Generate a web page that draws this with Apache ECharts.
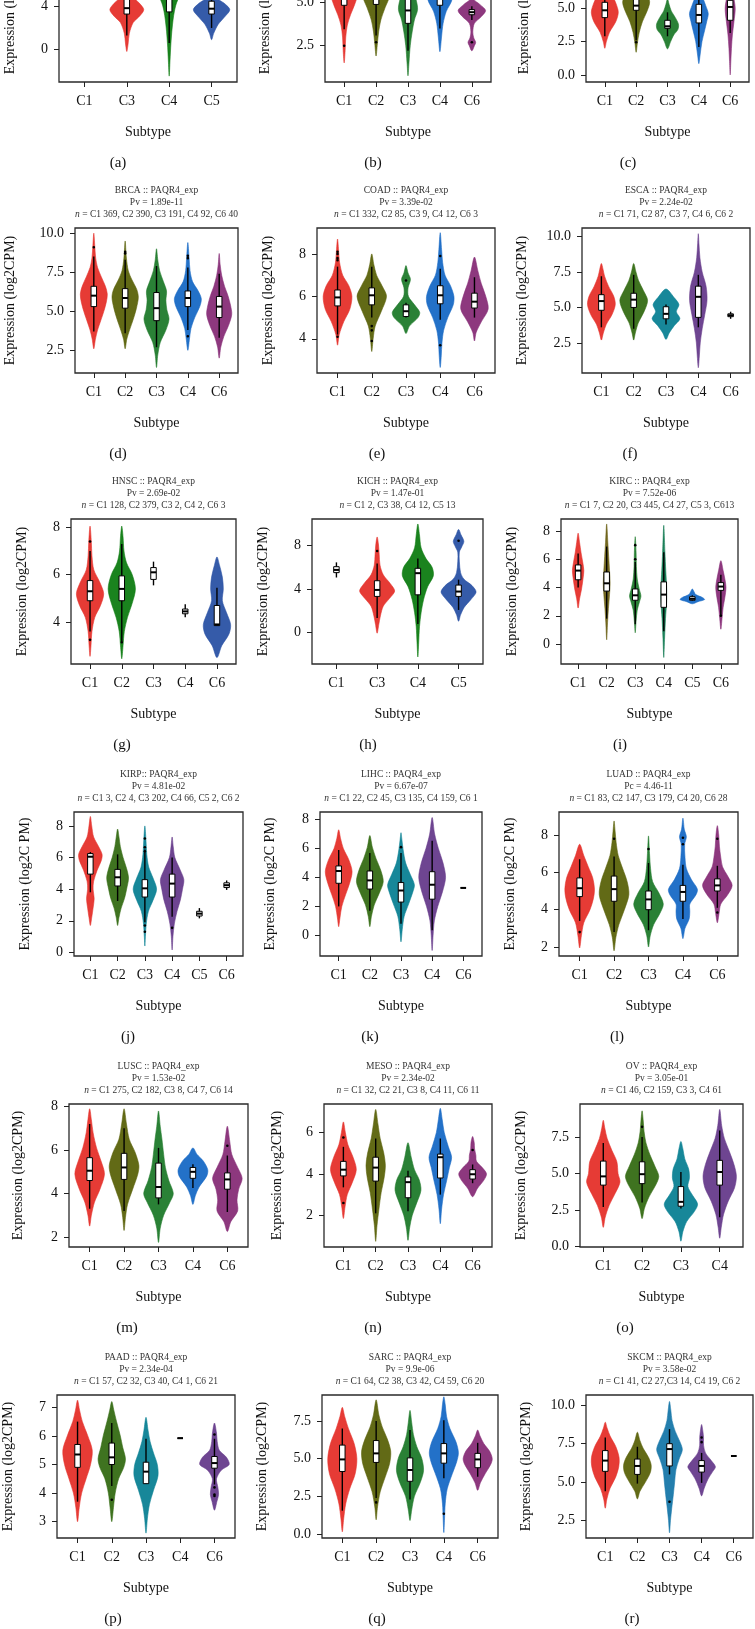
<!DOCTYPE html>
<html><head><meta charset="utf-8">
<script src="https://cdn.jsdelivr.net/npm/echarts@6/dist/echarts.min.js"></script>
<style>html,body{margin:0;padding:0;background:#fff}#c{width:755px;height:1629px}</style>
</head><body><div id="c"></div>
<script>
// ================= DATA =================
const panelLetters = ['a','b','c','d','e','f','g','h','i','j','k','l','m','n','o','p','q','r'];
const cancerTitles = ['','','','BRCA :: PAQR4_exp','COAD :: PAQR4_exp','ESCA :: PAQR4_exp','HNSC :: PAQR4_exp','KICH :: PAQR4_exp','KIRC :: PAQR4_exp','KIRP:: PAQR4_exp','LIHC :: PAQR4_exp','LUAD :: PAQR4_exp','LUSC :: PAQR4_exp','MESO :: PAQR4_exp','OV :: PAQR4_exp','PAAD :: PAQR4_exp','SARC :: PAQR4_exp','SKCM :: PAQR4_exp'];
const pvTexts = ['','','','Pv = 1.89e-11','Pv = 3.39e-02','Pv = 2.24e-02','Pv = 2.69e-02','Pv = 1.47e-01','Pv = 7.52e-06','Pv = 4.81e-02','Pv = 6.67e-07','Pc = 4.46-11','Pv = 1.53e-02','Pv = 2.34e-02','Pv = 3.05e-01','Pv = 2.34e-04','Pv = 9.9e-06','Pv = 3.58e-02'];
const nTexts = ['','','','C1 369, C2 390, C3 191, C4 92, C6 40','C1 332, C2 85, C3 9, C4 12, C6 3','C1 71, C2 87, C3 7, C4 6, C6 2','C1 128, C2 379, C3 2, C4 2, C6 3','C1 2, C3 38, C4 12, C5 13','C1 7, C2 20, C3 445, C4 27, C5 3, C613','C1 3, C2 4, C3 202, C4 66, C5 2, C6 2','C1 22, C2 45, C3 135, C4 159, C6 1','C1 83, C2 147, C3 179, C4 20, C6 28','C1 275, C2 182, C3 8, C4 7, C6 14','C1 32, C2 21, C3 8, C4 11, C6 11','C1 46, C2 159, C3 3, C4 61','C1 57, C2 32, C3 40, C4 1, C6 21','C1 64, C2 38, C3 42, C4 59, C6 20','C1 41, C2 27,C3 14, C4 19, C6 2'];
const yAxisTitles = ['Expression (log2CPM)','Expression (log2CPM)','Expression (log2CPM)','Expression (log2CPM)','Expression (log2CPM)','Expression (log2CPM)','Expression (log2CPM)','Expression (log2CPM)','Expression (log2CPM)','Expression (log2C PM)','Expression (log2C PM)','Expression (log2C PM)','Expression (log2CPM)','Expression (log2CPM)','Expression (log2CPM)','Expression (log2CPM)','Expression (log2CPM)','Expression (log2CPM)'];
const subtypeCats = [
 ['C1','C3','C4','C5'],['C1','C2','C3','C4','C6'],['C1','C2','C3','C4','C6'],
 ['C1','C2','C3','C4','C6'],['C1','C2','C3','C4','C6'],['C1','C2','C3','C4','C6'],
 ['C1','C2','C3','C4','C6'],['C1','C3','C4','C5'],['C1','C2','C3','C4','C5','C6'],
 ['C1','C2','C3','C4','C5','C6'],['C1','C2','C3','C4','C6'],['C1','C2','C3','C4','C6'],
 ['C1','C2','C3','C4','C6'],['C1','C2','C3','C4','C6'],['C1','C2','C3','C4'],
 ['C1','C2','C3','C4','C6'],['C1','C2','C3','C4','C6'],['C1','C2','C3','C4','C6']];
const yTickLabels = [
 ['0','4','8'],['2.5','5.0','7.5'],['0.0','2.5','5.0','7.5','10.0'],
 ['2.5','5.0','7.5','10.0'],['4','6','8'],['2.5','5.0','7.5','10.0'],
 ['4','6','8'],['0','4','8'],['0','2','4','6','8'],
 ['0','2','4','6','8'],['0','2','4','6','8'],['2','4','6','8'],
 ['2','4','6','8'],['2','4','6'],['0.0','2.5','5.0','7.5'],
 ['3','4','5','6','7'],['0.0','2.5','5.0','7.5'],['2.5','5.0','7.5','10.0']];
const yRanges = [[-3.05,10.5],[0.39,8.82],[-0.53,10.35],[1.05,10.33],[2.39,9.22],[0.38,10.6],[2.23,8.35],[-2.95,10.46],[-1.41,8.85],[-0.23,8.88],[-1.43,8.53],[1.52,9.23],[1.54,8.12],[0.48,7.36],[-0.05,9.77],[2.43,7.43],[-0.26,9.22],[1.36,10.67]];

// violin outlines: per group list of [value, half-width in category units], bottom to top
// boxes: [lowerWhisker, q1, median, q3, upperWhisker, [outliers]]
const violinA = [null,
 [[-0.2,0],[0.5,0.03],[1.5,0.06],[2.5,0.15],[3.1,0.3],[3.7,0.4],[4.3,0.3],[5,0.12],[6,0.06],[7,0.04],[8,0]],
 [[-2.5,0],[-1,0.02],[0.5,0.04],[2,0.07],[3.5,0.12],[4.6,0.2],[5.5,0.38],[6.2,0.3],[7,0.1],[8.5,0.05],[10,0]],
 [[0.9,0],[1.5,0.05],[2.3,0.15],[3.0,0.3],[3.7,0.43],[4.3,0.3],[4.8,0.12],[5.5,0.05],[6.5,0.03],[7.5,0.04],[8.4,0.12],[9,0.05],[9.5,0]]];
const boxA = [[5.1,5.5,5.75,6.05,6.45,[]],[1.3,3.3,3.85,4.7,6.2,[7.4]],[0.6,3.5,5.5,5.95,7.8,[]],[2.0,3.3,3.8,4.5,5.0,[8.4]]];

const violinB = [
 [[1.5,0],[2.2,0.03],[3.0,0.05],[3.7,0.1],[4.3,0.2],[4.9,0.33],[5.5,0.42],[6.1,0.35],[6.8,0.2],[7.5,0.08],[8.2,0]],
 [[1.9,0],[2.6,0.04],[3.3,0.08],[4.0,0.15],[4.7,0.28],[5.4,0.42],[6.0,0.35],[6.7,0.2],[7.4,0.08],[8.0,0]],
 [[0.75,0],[1.5,0.03],[2.5,0.07],[3.3,0.13],[4.0,0.2],[4.6,0.3],[5.2,0.25],[6,0.12],[7,0.04],[7.8,0]],
 [[2.15,0],[3.0,0.05],[3.8,0.1],[4.5,0.2],[5.2,0.38],[5.9,0.3],[6.6,0.15],[7.4,0.05],[8.0,0]],
 [[2.2,0],[2.5,0.08],[2.7,0.12],[2.95,0.06],[3.3,0.03],[3.8,0.08],[4.2,0.3],[4.55,0.43],[4.9,0.25],[5.2,0.05],[5.5,0]]];
const boxB = [[3.45,4.85,5.4,6.0,7.2,[2.5]],[3.1,4.9,5.4,5.9,7.0,[2.7]],[2.2,3.8,4.55,5.25,6.4,[]],[3.5,4.85,5.35,5.85,7.0,[]],[4.0,4.3,4.45,4.6,4.8,[2.7]]];

const violinC = [
 [[2.0,0],[2.5,0.05],[3.2,0.15],[4.0,0.35],[4.7,0.43],[5.4,0.35],[6.2,0.2],[7.0,0.08],[7.8,0]],
 [[1.7,0],[2.4,0.04],[3.2,0.1],[4.0,0.2],[4.8,0.35],[5.5,0.43],[6.2,0.3],[7.0,0.12],[7.8,0]],
 [[1.95,0],[2.5,0.1],[3.0,0.2],[3.4,0.33],[3.8,0.35],[4.3,0.25],[4.8,0.12],[5.3,0.05],[5.7,0]],
 [[0.85,0],[1.5,0.04],[2.5,0.1],[3.3,0.18],[4.0,0.25],[4.6,0.3],[5.2,0.22],[6,0.1],[7,0.03],[7.6,0]],
 [[0,0],[1,0.02],[2,0.04],[3,0.07],[4,0.12],[5,0.16],[6,0.1],[7,0.04],[8,0]]];
const boxC = [[2.9,4.3,4.85,5.45,6.5,[]],[2.6,4.85,5.2,5.75,7.0,[2.45]],[2.9,3.5,3.65,4.1,4.7,[]],[2.1,3.9,4.5,5.3,6.5,[]],[3.15,4.1,5.1,5.6,7.0,[]]];

const violinD = [
 [[2.6,0],[3.2,0.05],[3.8,0.12],[4.4,0.22],[5.0,0.32],[5.6,0.4],[6.1,0.43],[6.6,0.37],[7.2,0.24],[7.8,0.12],[8.4,0.06],[9.2,0.03],[10.0,0]],
 [[2.6,0],[3.2,0.05],[3.8,0.14],[4.5,0.26],[5.2,0.36],[5.9,0.42],[6.4,0.37],[7.0,0.22],[7.6,0.1],[8.4,0.04],[9.5,0]],
 [[1.4,0],[2.2,0.04],[3.0,0.12],[3.8,0.3],[4.5,0.4],[5.1,0.33],[5.7,0.3],[6.3,0.32],[6.9,0.22],[7.6,0.1],[8.3,0.04],[9.0,0]],
 [[2.5,0],[3.2,0.05],[3.9,0.1],[4.6,0.22],[5.3,0.38],[5.8,0.43],[6.3,0.33],[6.9,0.15],[7.6,0.07],[8.4,0.04],[9.4,0]],
 [[2.0,0],[2.7,0.05],[3.4,0.15],[4.1,0.3],[4.8,0.4],[5.4,0.36],[6.0,0.28],[6.6,0.17],[7.3,0.08],[8.0,0.03],[8.7,0]]];
const boxD = [[3.7,5.3,6.0,6.6,8.5,[9.1]],[3.6,5.2,5.85,6.45,8.3,[8.7,8.8]],[2.7,4.4,5.2,6.2,7.9,[]],[3.8,5.3,5.85,6.3,7.8,[3.4,8.4,8.55]],[3.3,4.6,5.3,5.95,7.4,[]]];

const violinE = [
 [[3.7,0],[4.2,0.05],[4.8,0.18],[5.4,0.36],[6.0,0.42],[6.5,0.33],[7.0,0.15],[7.6,0.06],[8.2,0.03],[8.7,0]],
 [[3.4,0],[4.0,0.04],[4.6,0.1],[5.3,0.28],[6.0,0.43],[6.5,0.3],[7.0,0.14],[7.5,0.06],[8.0,0]],
 [[4.25,0],[4.6,0.1],[5.0,0.35],[5.25,0.4],[5.6,0.25],[6.0,0.07],[6.4,0.06],[6.8,0.13],[7.1,0.06],[7.45,0]],
 [[2.65,0],[3.2,0.03],[3.8,0.05],[4.4,0.1],[5.0,0.22],[5.6,0.38],[6.0,0.4],[6.5,0.3],[7.0,0.14],[7.6,0.07],[8.2,0.04],[9.0,0]],
 [[3.9,0],[4.3,0.05],[4.8,0.2],[5.4,0.4],[6.0,0.33],[6.6,0.2],[7.2,0.1],[7.85,0]]];
const boxE = [[4.2,5.55,5.95,6.3,7.4,[7.8,8.0,8.1,7.7,4.1]],[5.0,5.6,6.05,6.4,7.4,[4.6,4.4,3.9]],[5.0,5.05,5.3,5.6,5.7,[6.75]],[4.9,5.65,6.05,6.5,7.3,[7.9,3.7]],[5.0,5.45,5.75,6.15,6.9,[]]];

const violinF = [
 [[2.7,0],[3.2,0.06],[3.8,0.15],[4.5,0.33],[5.2,0.43],[5.8,0.38],[6.5,0.22],[7.2,0.1],[7.7,0.05],[8.1,0]],
 [[2.7,0],[3.2,0.05],[3.9,0.14],[4.7,0.32],[5.5,0.43],[6.2,0.3],[6.9,0.15],[7.5,0.07],[8.1,0]],
 [[2.75,0],[3.2,0.1],[3.7,0.25],[4.2,0.43],[4.7,0.32],[5.2,0.4],[5.7,0.25],[6.3,0]],
 [[0.75,0],[1.5,0.03],[2.5,0.06],[3.5,0.12],[4.5,0.2],[5.5,0.27],[6.5,0.24],[7.5,0.12],[8.5,0.05],[9.5,0.02],[10.2,0]],
 null];
const boxF = [[3.6,4.8,5.45,5.9,7.2,[]],[3.5,5.0,5.55,6.0,7.3,[]],[3.8,4.2,4.55,5.05,5.2,[]],[3.6,4.3,5.75,6.5,7.3,[]],[4.2,4.35,4.45,4.55,4.7,[]]];

const violinG = [
 [[2.55,0],[3.0,0.03],[3.6,0.06],[4.2,0.15],[4.7,0.33],[5.2,0.43],[5.7,0.3],[6.2,0.12],[6.8,0.06],[7.4,0.04],[8.05,0]],
 [[2.45,0],[3.0,0.04],[3.6,0.08],[4.2,0.18],[4.8,0.33],[5.4,0.43],[6.0,0.33],[6.5,0.15],[7.0,0.07],[7.6,0.04],[8.05,0]],
 null, null,
 [[2.5,0],[3.0,0.15],[3.5,0.38],[3.9,0.43],[4.4,0.3],[4.9,0.17],[5.4,0.2],[5.9,0.17],[6.4,0.08],[6.75,0]]];
const boxG = [[3.6,4.9,5.3,5.75,7.0,[7.4,3.25]],[3.2,4.9,5.4,5.95,7.3,[3.15]],[5.55,5.8,6.1,6.3,6.55,[]],[4.2,4.35,4.45,4.55,4.75,[]],[3.85,3.85,3.9,4.7,5.45,[]]];

const violinH = [null,
 [[-0.1,0],[0.7,0.04],[1.5,0.08],[2.4,0.15],[3.1,0.3],[3.8,0.43],[4.5,0.32],[5.3,0.15],[6.2,0.07],[7.2,0.05],[8.2,0.03],[8.8,0]],
 [[-2.3,0],[-1,0.02],[0.5,0.04],[1.8,0.08],[3,0.14],[4.2,0.24],[5.2,0.38],[6.0,0.35],[6.8,0.2],[7.8,0.08],[9,0.04],[10,0]],
 [[1.0,0],[1.6,0.05],[2.3,0.14],[3.0,0.3],[3.7,0.43],[4.3,0.33],[4.9,0.13],[5.5,0.05],[6.5,0.02],[7.4,0.02],[7.9,0.08],[8.4,0.13],[9.0,0.06],[9.5,0]]];
const boxH = [[5.05,5.5,5.75,6.05,6.45,[]],[1.3,3.3,3.9,4.75,6.35,[7.5]],[0.75,3.45,5.45,5.9,6.8,[]],[2.05,3.3,3.75,4.35,4.85,[8.45]]];

const violinI = [
 [[2.55,0],[3.2,0.05],[3.9,0.12],[4.6,0.17],[5.2,0.2],[5.8,0.16],[6.5,0.1],[7.2,0.05],[7.85,0]],
 [[0.3,0],[1.5,0.03],[2.5,0.06],[3.5,0.1],[4.3,0.12],[5.2,0.1],[6.2,0.07],[7.2,0.04],[8.5,0]],
 [[0.8,0],[1.6,0.03],[2.4,0.07],[3.0,0.15],[3.4,0.2],[3.9,0.14],[4.6,0.07],[5.5,0.04],[6.5,0.03],[7.6,0]],
 [[-0.95,0],[0.5,0.03],[1.8,0.06],[3.0,0.1],[4.0,0.1],[5.2,0.07],[6.5,0.04],[8.4,0]],
 [[2.85,0],[3.0,0.2],[3.15,0.43],[3.3,0.35],[3.5,0.12],[3.7,0.06],[3.9,0]],
 [[1.05,0],[1.8,0.04],[2.6,0.08],[3.3,0.14],[4.0,0.18],[4.6,0.14],[5.2,0.08],[5.9,0]]];
const boxI = [[4.0,4.55,5.2,5.6,6.4,[]],[1.8,3.75,4.3,5.1,6.9,[]],[1.4,3.1,3.45,3.9,5.8,[7.0,6.0]],[0.9,2.6,3.5,4.4,6.5,[]],[3.05,3.1,3.2,3.35,3.45,[]],[2.0,3.8,4.07,4.35,4.9,[2.0]]];

const violinJ = [
 [[1.7,0],[2.2,0.05],[2.8,0.1],[3.4,0.14],[4.0,0.1],[4.5,0.12],[5.2,0.25],[5.8,0.4],[6.2,0.43],[6.7,0.3],[7.3,0.12],[8.0,0.05],[8.6,0]],
 [[1.7,0],[2.2,0.05],[2.8,0.13],[3.4,0.25],[4.0,0.33],[4.7,0.4],[5.3,0.33],[6.0,0.2],[6.7,0.1],[7.3,0.05],[7.8,0]],
 [[0.4,0],[1.0,0.02],[1.8,0.05],[2.6,0.13],[3.3,0.3],[4.0,0.43],[4.7,0.3],[5.4,0.14],[6.2,0.07],[7.1,0.04],[8.0,0]],
 [[0.15,0],[1.0,0.03],[1.8,0.08],[2.6,0.18],[3.3,0.3],[4.0,0.38],[4.6,0.43],[5.2,0.3],[6.0,0.1],[6.7,0.04],[7.3,0]],
 null, null];
const boxJ = [[3.8,4.95,6.05,6.25,6.35,[]],[3.25,4.2,4.75,5.25,6.2,[]],[1.9,3.5,4.05,4.6,6.5,[7.2,6.65,6.4,1.7,1.3]],[2.25,3.5,4.35,4.95,6.0,[1.55]],[2.15,2.3,2.45,2.6,2.8,[]],[3.95,4.1,4.25,4.4,4.55,[]]];

const violinK = [
 [[0.6,0],[1.2,0.04],[2.0,0.1],[2.8,0.22],[3.6,0.35],[4.4,0.43],[5.2,0.33],[6.0,0.15],[6.7,0.06],[7.3,0]],
 [[0.6,0],[1.3,0.05],[2.1,0.14],[2.9,0.3],[3.7,0.43],[4.5,0.35],[5.3,0.2],[6.1,0.08],[6.9,0]],
 [[-0.45,0],[0.4,0.04],[1.3,0.1],[2.2,0.25],[3.0,0.38],[3.5,0.43],[4.2,0.3],[5.0,0.15],[5.9,0.07],[6.6,0.03],[7.1,0]],
 [[-1.05,0],[0,0.03],[1.0,0.07],[2.0,0.18],[3.0,0.33],[4.0,0.43],[5.0,0.35],[6.0,0.2],[7.0,0.08],[8.15,0]],
 null];
const boxK = [[2.0,3.6,4.45,4.8,5.9,[]],[1.7,3.2,3.8,4.45,5.7,[]],[0.8,2.3,3.1,3.65,5.7,[6.1]],[0.35,2.5,3.5,4.4,6.55,[]],[3.28,3.28,3.28,3.28,3.28,[]]];

const violinL = [
 [[1.95,0],[2.6,0.05],[3.3,0.12],[4.0,0.3],[4.6,0.4],[5.1,0.43],[5.7,0.38],[6.3,0.25],[6.9,0.12],[7.5,0]],
 [[1.8,0],[2.5,0.05],[3.2,0.14],[4.0,0.3],[4.8,0.43],[5.5,0.38],[6.2,0.25],[6.9,0.12],[7.6,0.06],[8.2,0.03],[8.75,0]],
 [[2.0,0],[2.6,0.05],[3.2,0.15],[3.8,0.33],[4.3,0.43],[4.9,0.3],[5.5,0.12],[6.2,0.06],[7.0,0.03],[7.95,0]],
 [[2.45,0],[3.0,0.06],[3.5,0.18],[3.9,0.2],[4.3,0.2],[4.8,0.38],[5.1,0.42],[5.6,0.25],[6.2,0.1],[6.8,0.06],[7.5,0.05],[7.9,0.1],[8.3,0.04],[8.9,0]],
 [[3.3,0],[3.8,0.05],[4.3,0.1],[4.8,0.3],[5.3,0.43],[5.8,0.3],[6.3,0.15],[6.8,0.1],[7.4,0.06],[8.0,0.04],[8.5,0]]];
const boxL = [[3.4,4.7,5.15,5.7,6.7,[2.8]],[2.8,4.45,5.1,5.8,6.85,[7.8]],[2.9,4.0,4.55,5.0,6.5,[7.25]],[3.5,4.45,4.95,5.3,6.4,[7.85,7.5]],[4.1,5.0,5.3,5.65,6.35,[7.8,3.85]]];

const violinM = [
 [[2.5,0],[3.0,0.05],[3.6,0.14],[4.2,0.3],[4.9,0.43],[5.5,0.33],[6.1,0.2],[6.8,0.1],[7.4,0.05],[7.9,0]],
 [[2.3,0],[2.9,0.04],[3.5,0.1],[4.2,0.25],[4.9,0.4],[5.3,0.43],[5.9,0.32],[6.5,0.15],[7.2,0.07],[7.9,0]],
 [[1.75,0],[2.4,0.05],[3.0,0.15],[3.6,0.33],[4.0,0.43],[4.6,0.3],[5.2,0.2],[5.8,0.15],[6.5,0.1],[7.1,0.05],[7.8,0]],
 [[3.5,0],[3.9,0.07],[4.3,0.18],[4.8,0.4],[5.1,0.43],[5.5,0.3],[5.8,0.12],[6.1,0]],
 [[2.25,0],[2.7,0.1],[3.2,0.3],[3.7,0.28],[4.2,0.33],[4.7,0.43],[5.2,0.3],[5.8,0.13],[6.4,0.07],[7.1,0]]];
const boxM = [[3.3,4.6,5.05,5.65,7.2,[]],[3.2,4.65,5.2,5.85,7.0,[]],[3.5,3.8,4.3,5.4,6.1,[]],[4.25,4.7,5.0,5.2,5.35,[]],[3.15,4.2,4.65,4.95,5.75,[6.2]]];

const violinN = [
 [[1.85,0],[2.4,0.05],[3.0,0.12],[3.6,0.28],[4.2,0.4],[4.8,0.3],[5.4,0.14],[6.0,0.06],[6.5,0]],
 [[0.75,0],[1.5,0.04],[2.3,0.1],[3.1,0.17],[3.8,0.26],[4.4,0.3],[5.0,0.25],[5.7,0.14],[6.4,0.07],[7.1,0]],
 [[0.8,0],[1.4,0.05],[2.0,0.13],[2.6,0.27],[3.2,0.4],[3.7,0.35],[4.2,0.2],[4.8,0.1],[5.5,0]],
 [[1.6,0],[2.3,0.04],[3.0,0.1],[3.7,0.2],[4.3,0.28],[4.8,0.35],[5.3,0.25],[6.0,0.12],[6.6,0.06],[7.15,0]],
 [[2.9,0],[3.3,0.15],[3.7,0.35],[4.0,0.43],[4.3,0.3],[4.6,0.12],[4.9,0.1],[5.2,0.06],[5.5,0.05],[5.8,0]]];
const boxN = [[3.35,3.9,4.2,4.6,5.3,[5.75,2.6]],[2.1,3.65,4.3,4.8,5.7,[]],[2.2,2.85,3.6,3.85,4.15,[]],[3.0,3.8,4.8,4.95,5.7,[]],[3.55,3.75,3.98,4.2,4.45,[5.15]]];

const violinO = [
 [[1.3,0],[2.0,0.05],[2.8,0.15],[3.6,0.3],[4.4,0.43],[5.0,0.38],[5.8,0.35],[6.6,0.22],[7.4,0.1],[8.1,0.04],[8.65,0]],
 [[1.9,0],[2.6,0.06],[3.4,0.18],[4.2,0.35],[4.8,0.43],[5.5,0.33],[6.3,0.2],[7.1,0.1],[7.9,0.05],[8.6,0.03],[9.3,0]],
 [[0.35,0],[1.0,0.05],[1.7,0.15],[2.4,0.35],[2.9,0.43],[3.5,0.3],[4.1,0.18],[4.7,0.22],[5.3,0.2],[6.0,0.1],[6.7,0.05],[7.2,0]],
 [[0.55,0],[1.3,0.04],[2.2,0.1],[3.1,0.22],[4.0,0.38],[4.8,0.43],[5.6,0.37],[6.5,0.25],[7.4,0.12],[8.3,0.05],[9.4,0]]];
const boxO = [[2.7,4.2,4.8,5.85,7.1,[]],[3.0,4.3,4.95,5.8,7.5,[8.2]],[2.6,2.75,3.05,4.1,5.1,[]],[2.0,4.2,5.1,5.9,7.95,[]]];

const violinP = [
 [[3.0,0],[3.5,0.05],[4.0,0.12],[4.5,0.25],[5.0,0.38],[5.5,0.43],[6.0,0.3],[6.5,0.14],[6.9,0.06],[7.25,0]],
 [[3.0,0],[3.5,0.05],[4.0,0.1],[4.5,0.2],[4.9,0.35],[5.2,0.4],[5.6,0.32],[6.0,0.25],[6.5,0.14],[6.9,0.06],[7.2,0]],
 [[2.6,0],[3.1,0.04],[3.6,0.1],[4.1,0.22],[4.6,0.35],[5.0,0.33],[5.4,0.22],[5.8,0.12],[6.2,0.06],[6.65,0]],
 null,
 [[3.4,0],[3.7,0.07],[3.95,0.12],[4.2,0.1],[4.5,0.06],[4.8,0.2],[5.0,0.43],[5.25,0.35],[5.5,0.14],[5.8,0.08],[6.1,0.06],[6.45,0]]];
const boxP = [[3.7,4.9,5.35,5.7,6.5,[]],[4.25,5.0,5.25,5.75,6.45,[3.77]],[4.33,4.33,4.75,5.08,5.9,[]],[5.92,5.92,5.92,5.92,5.92,[]],[4.3,4.87,5.05,5.28,5.9,[6.05,4.2,3.95,3.9]]];

const violinQ = [
 [[0.15,0],[1.0,0.04],[2.0,0.1],[3.0,0.22],[4.0,0.38],[5.0,0.43],[6.0,0.35],[7.0,0.18],[7.8,0.07],[8.4,0]],
 [[0.95,0],[1.8,0.04],[2.8,0.12],[3.8,0.27],[4.7,0.4],[5.5,0.43],[6.3,0.33],[7.1,0.18],[7.9,0.08],[8.9,0]],
 [[0.9,0],[1.6,0.05],[2.5,0.13],[3.4,0.3],[4.2,0.4],[5.0,0.35],[5.8,0.2],[6.6,0.1],[7.4,0.05],[8.2,0]],
 [[0.1,0],[1.0,0.02],[2.0,0.04],[3.0,0.1],[4.0,0.25],[4.8,0.38],[5.4,0.43],[6.1,0.36],[7.0,0.18],[7.8,0.08],[8.6,0.04],[9.1,0]],
 [[2.9,0],[3.4,0.08],[4.0,0.22],[4.6,0.38],[5.0,0.43],[5.5,0.35],[6.0,0.18],[6.5,0.07],[6.9,0]]];
const boxQ = [[1.55,4.15,4.95,5.9,7.0,[]],[2.4,4.75,5.35,6.2,7.5,[2.1]],[2.3,3.5,4.25,5.05,6.9,[]],[3.7,4.7,5.35,6.0,7.55,[1.35]],[3.8,4.4,4.95,5.35,6.05,[]]];

const violinR = [
 [[3.3,0],[3.9,0.05],[4.6,0.15],[5.3,0.32],[6.0,0.42],[6.6,0.43],[7.3,0.33],[8.0,0.15],[8.5,0.06],[8.9,0]],
 [[3.9,0],[4.4,0.08],[5.0,0.25],[5.6,0.4],[6.1,0.43],[6.6,0.35],[7.2,0.18],[7.7,0.08],[8.25,0]],
 [[1.7,0],[2.5,0.03],[3.3,0.07],[4.2,0.12],[5.0,0.16],[5.8,0.2],[6.5,0.3],[7.1,0.4],[7.6,0.33],[8.3,0.18],[9.0,0.08],[9.7,0.04],[10.25,0]],
 [[4.1,0],[4.6,0.08],[5.2,0.2],[5.7,0.35],[6.0,0.43],[6.4,0.3],[6.9,0.12],[7.4,0.06],[7.9,0.06],[8.3,0.04],[8.75,0]],
 null];
const boxR = [[4.4,5.7,6.4,7.05,7.9,[]],[4.9,5.5,6.05,6.5,7.3,[]],[5.5,6.05,7.15,7.5,8.45,[3.72]],[4.95,5.65,6.05,6.4,6.9,[7.9,7.6]],[6.7,6.7,6.7,6.7,6.7,[]]];

const violinSets = [violinA,violinB,violinC,violinD,violinE,violinF,violinG,violinH,violinI,violinJ,violinK,violinL,violinM,violinN,violinO,violinP,violinQ,violinR];
const boxSets = [boxA,boxB,boxC,boxD,boxE,boxF,boxG,boxH,boxI,boxJ,boxK,boxL,boxM,boxN,boxO,boxP,boxQ,boxR];

// ================= STYLE / LAYOUT =================
const RED='#E5302A', OLIVE='#5A620A', GREEN='#1F7A2B', BGREEN='#0E7C12', BLUE='#1769C5', NAVY='#2A52A4',
      PURPLE='#663B8B', MAGENTA='#872D77', TEAL='#0B8193', DOLIVE='#6A5F14', TGREEN='#117A52', TBLUE='#1777A9', DGREEN='#356C14';
const panelColors = [
 [RED,RED,BGREEN,NAVY],[RED,OLIVE,GREEN,BLUE,MAGENTA],[RED,OLIVE,GREEN,BLUE,MAGENTA],
 [RED,OLIVE,GREEN,BLUE,MAGENTA],[RED,OLIVE,GREEN,BLUE,MAGENTA],[RED,DGREEN,TEAL,PURPLE,PURPLE],
 [RED,BGREEN,GREEN,GREEN,NAVY],[RED,RED,BGREEN,NAVY],[RED,DOLIVE,GREEN,TGREEN,BLUE,MAGENTA],
 [RED,DGREEN,TEAL,PURPLE,PURPLE,PURPLE],[RED,DGREEN,TEAL,PURPLE,PURPLE],[RED,OLIVE,GREEN,BLUE,MAGENTA],
 [RED,OLIVE,GREEN,BLUE,MAGENTA],[RED,OLIVE,GREEN,BLUE,MAGENTA],[RED,DGREEN,TEAL,PURPLE],
 [RED,DGREEN,TEAL,TEAL,PURPLE],[RED,OLIVE,GREEN,BLUE,MAGENTA],[RED,OLIVE,TBLUE,PURPLE,PURPLE]];
const rowTop = [-63, 228, 519, 812, 1104, 1395];
const rowH = [145, 145, 145, 144, 143, 143];
const gridLeft = [59,325,586, 75,317,582, 71,312,561, 74,320,559, 69,324,580, 57,322,586];
const gridW = [178,166,163, 163,178,168, 165,171,177, 169,162,179, 179,168,163, 178,176,167];
const yNameOffset = [49,60,62, 65,49,60, 49,49,49, 49,50,49, 51,47,59, 49,60,60];
const letterX = [118,373,628, 118,377,630, 122,368,620, 128,370,617, 127,373,625, 113,377,632];
const SERIF = '"Liberation Serif", "DejaVu Serif", serif';

function makeRender(shapes, boxes, colors) {
  return function (params, api) {
    const j = params.dataIndex, c = j + 1;
    const children = [];
    const sh = shapes[j];
    if (sh) {
      const left = sh.map(p => api.coord([c - p[1], p[0]]));
      const right = sh.slice(1, -1).reverse().map(p => api.coord([c + p[1], p[0]]));
      children.push({ type: 'polygon', shape: { points: left.concat(right), smooth: 0.3 },
        style: { fill: colors[j], stroke: colors[j], lineWidth: 0.6, opacity: 0.95 } });
    }
    const b = boxes[j];
    if (b) {
      const [lo, q1, md, q3, hi, outs] = b;
      const pm = api.coord([c, md]);
      const cx = pm[0], ym = pm[1];
      const yLo = api.coord([c, lo])[1], yHi = api.coord([c, hi])[1];
      const y1 = api.coord([c, q1])[1], y3 = api.coord([c, q3])[1];
      const bw = 5.5;
      children.push({ type: 'line', shape: { x1: cx, y1: yLo, x2: cx, y2: yHi }, style: { stroke: '#000', lineWidth: 1.4 } });
      children.push({ type: 'rect', shape: { x: cx - bw / 2, y: y3, width: bw, height: Math.max(y1 - y3, 0.01) },
        style: { fill: '#fff', stroke: '#000', lineWidth: 1 } });
      children.push({ type: 'line', shape: { x1: cx - bw / 2, y1: ym, x2: cx + bw / 2, y2: ym }, style: { stroke: '#000', lineWidth: 2 } });
      (outs || []).forEach(o => {
        const p = api.coord([c, o]);
        children.push({ type: 'circle', shape: { cx: p[0], cy: p[1], r: 1.3 }, style: { fill: '#000' } });
      });
    }
    return { type: 'group', children };
  };
}

const option = { animation: false, backgroundColor: '#ffffff', grid: [], xAxis: [], yAxis: [], series: [], graphic: { elements: [] } };

for (let i = 0; i < 18; i++) {
  const row = Math.floor(i / 3);
  const top = rowTop[row], h = rowH[row];
  const cats = subtypeCats[i];
  const n = cats.length;
  const tl = yTickLabels[i];
  const tv = tl.map(Number);
  option.grid.push({ left: gridLeft[i], top: top, width: gridW[i], height: h, show: true,
    borderColor: '#2a2a2a', borderWidth: 1.3, backgroundColor: 'rgba(0,0,0,0)', containLabel: false, outerBoundsMode: 'none' });
  const xs = cats.map((_, k) => k + 1);
  option.xAxis.push({ gridIndex: i, type: 'value', min: 0.4, max: n + 0.6, position: 'bottom',
    axisLine: { show: false, onZero: false }, splitLine: { show: false },
    axisTick: { show: true, customValues: xs, length: 5, lineStyle: { color: '#222', width: 1 } },
    axisLabel: { customValues: xs, formatter: v => cats[Math.round(v) - 1] || '', margin: 12,
      fontFamily: SERIF, fontSize: 14, color: '#111' },
    name: 'Subtype', nameLocation: 'middle', nameGap: 43,
    nameTextStyle: { fontFamily: SERIF, fontSize: 14, color: '#111' } });
  option.yAxis.push({ gridIndex: i, type: 'value', min: yRanges[i][0], max: yRanges[i][1], position: 'left',
    axisLine: { show: false, onZero: false }, splitLine: { show: false },
    axisTick: { show: true, customValues: tv, length: 5, lineStyle: { color: '#222', width: 1 } },
    axisLabel: { customValues: tv, margin: 11, fontFamily: SERIF, fontSize: 14, color: '#111',
      formatter: v => { const k = tv.findIndex(t => Math.abs(t - v) < 1e-6); return k >= 0 ? tl[k] : ''; } },
    name: yAxisTitles[i], nameLocation: 'middle', nameGap: yNameOffset[i] - 7,
    nameTextStyle: { fontFamily: SERIF, fontSize: 14, color: '#111' } });
  option.series.push({ type: 'custom', xAxisIndex: i, yAxisIndex: i, silent: true,
    data: boxSets[i].map((b, k) => [k + 1, b[2]]), encode: { x: 0, y: 1 },
    renderItem: makeRender(violinSets[i], boxSets[i], panelColors[i]) });

  const cx = gridLeft[i] + gridW[i] / 2;
  const titleStyle = { fontFamily: SERIF, fontSize: 9.5, fill: '#333', align: 'center', verticalAlign: 'middle', textAlign: 'center', textVerticalAlign: 'middle' };
  if (cancerTitles[i]) {
    option.graphic.elements.push({ type: 'text', x: cx, y: top - 38, silent: true, style: Object.assign({ text: cancerTitles[i] }, titleStyle) });
    option.graphic.elements.push({ type: 'text', x: cx, y: top - 26, silent: true, style: Object.assign({ text: pvTexts[i] }, titleStyle) });
    option.graphic.elements.push({ type: 'text', x: cx, y: top - 14, silent: true,
      style: Object.assign({ text: '{i|n} = ' + nTexts[i], rich: { i: { fontStyle: 'italic', fontFamily: SERIF, fontSize: 9.5, fill: '#333' } } }, titleStyle) });
  }
  option.graphic.elements.push({ type: 'text', x: letterX[i], y: top + h + 81, silent: true,
    style: { text: '(' + panelLetters[i] + ')', fontFamily: SERIF, fontSize: 15, fill: '#111', align: 'center', verticalAlign: 'middle', textAlign: 'center', textVerticalAlign: 'middle' } });
}

const chart = echarts.init(document.getElementById('c'), null, { renderer: 'canvas', width: 755, height: 1629 });
chart.setOption(option);
</script>
</body></html>
